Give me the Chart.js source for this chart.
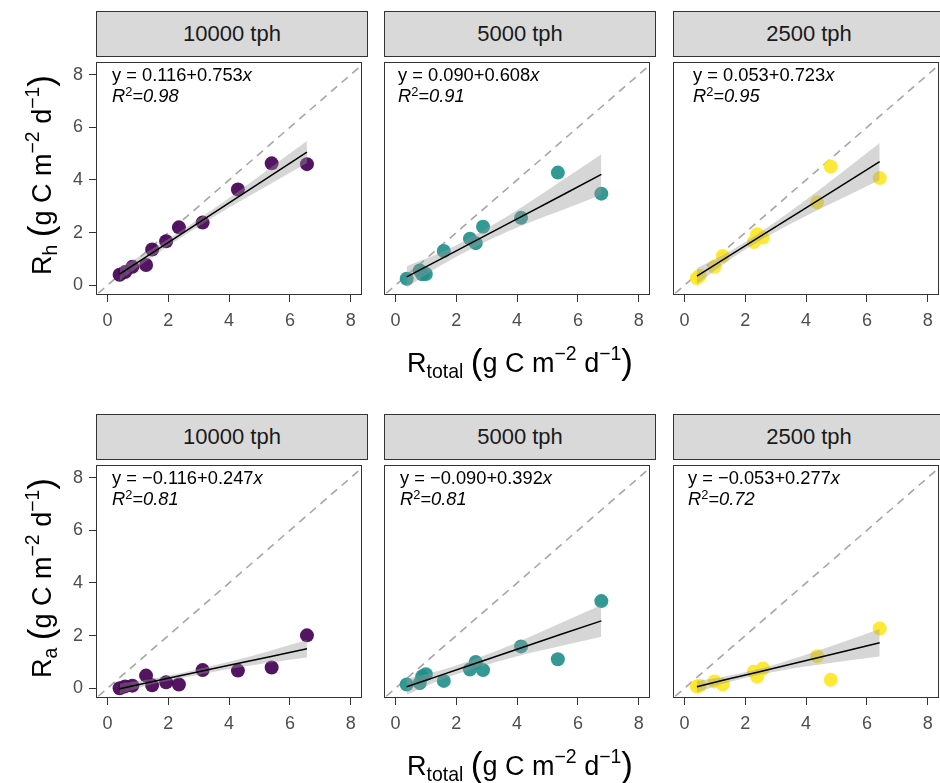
<!DOCTYPE html>
<html>
<head>
<meta charset="utf-8">
<script src="https://cdn.jsdelivr.net/npm/chart.js@4.4.0/dist/chart.umd.min.js"></script>
<style>
  body{margin:0;width:940px;height:783px;overflow:hidden;background:#fff;position:relative;font-family:"Liberation Sans",Arial,sans-serif;}
  canvas{position:absolute;}
  .strip{position:absolute;box-sizing:border-box;border:1px solid #333;background:#d9d9d9;height:46px;display:flex;align-items:center;justify-content:center;font-size:22px;color:#1a1a1a;}
  .eq{position:absolute;font-size:18.3px;line-height:21px;color:#000;white-space:nowrap;}
  .eq sup{font-size:0.7em;line-height:0;vertical-align:0.5em;}
  .ttl{position:absolute;font-size:27px;line-height:32px;color:#000;white-space:nowrap;}
  .ttl sub{font-size:0.72em;line-height:0;vertical-align:-0.3em;}
  .ttl sup{font-size:0.72em;line-height:0;vertical-align:0.62em;}
  .ttl .par{font-size:35px;line-height:0;vertical-align:-0.06em;font-weight:300;}
</style>
</head>
<body>
<script>
// ---------- data ----------
const facetLabels = ["10000 tph", "5000 tph", "2500 tph"];
const xTicks = [0, 2, 4, 6, 8];
const yTicks = [0, 2, 4, 6, 8];

const rtotal10000 = [0.40, 0.58, 0.82, 1.27, 1.47, 1.93, 2.35, 3.13, 4.29, 5.40, 6.56];
const rh10000     = [0.40, 0.50, 0.70, 0.77, 1.36, 1.67, 2.20, 2.38, 3.64, 4.63, 4.60];
const ra10000     = [0.00, 0.07, 0.10, 0.48, 0.11, 0.23, 0.14, 0.69, 0.67, 0.79, 2.01];

const rtotal5000 = [0.37, 0.80, 0.88, 1.00, 1.59, 2.45, 2.64, 2.88, 4.13, 5.34, 6.77];
const rh5000     = [0.25, 0.56, 0.42, 0.43, 1.30, 1.77, 1.60, 2.22, 2.56, 4.28, 3.48];
const ra5000     = [0.14, 0.20, 0.45, 0.53, 0.28, 0.71, 1.00, 0.69, 1.59, 1.10, 3.31];

const rtotal2500 = [0.41, 0.50, 0.99, 1.26, 2.28, 2.39, 2.58, 4.36, 4.81, 6.42];
const rh2500     = [0.27, 0.36, 0.70, 1.11, 1.64, 1.94, 1.81, 3.15, 4.51, 4.07];
const ra2500     = [0.07, 0.10, 0.26, 0.14, 0.63, 0.44, 0.75, 1.22, 0.32, 2.27];

// fitted line and its confidence band, read at a few x positions
const bandX10000 = [0.40, 1.5, 2.5, 4.0, 5.3, 6.56];
const bandX5000  = [0.37, 1.5, 2.5, 4.0, 5.4, 6.77];
const bandX2500  = [0.41, 1.3, 2.4, 3.8, 5.1, 6.42];

const rhFit10000 = [0.42, 1.25, 2.00, 3.13, 4.11, 5.06];
const rhLo10000  = [0.17, 1.10, 1.87, 2.95, 3.81, 4.64];
const rhHi10000  = [0.67, 1.40, 2.13, 3.31, 4.41, 5.48];
const rhFit5000  = [0.32, 1.00, 1.61, 2.52, 3.37, 4.21];
const rhLo5000   = [-0.09, 0.76, 1.39, 2.19, 2.82, 3.44];
const rhHi5000   = [0.72, 1.24, 1.83, 2.85, 3.92, 4.98];
const rhFit2500  = [0.35, 0.99, 1.79, 2.80, 3.74, 4.70];
const rhLo2500   = [0.05, 0.81, 1.64, 2.52, 3.26, 4.00];
const rhHi2500   = [0.65, 1.17, 1.94, 3.08, 4.22, 5.40];

const raFit10000 = [-0.02, 0.26, 0.50, 0.87, 1.19, 1.50];
const raLo10000  = [-0.22, 0.16, 0.40, 0.73, 0.97, 1.17];
const raHi10000  = [0.18, 0.36, 0.60, 1.01, 1.41, 1.83];
const raFit5000  = [0.06, 0.50, 0.89, 1.48, 2.03, 2.56];
const raLo5000   = [-0.25, 0.32, 0.72, 1.22, 1.60, 1.96];
const raHi5000   = [0.36, 0.68, 1.06, 1.74, 2.46, 3.16];
const raFit2500  = [0.06, 0.31, 0.61, 1.00, 1.36, 1.73];
const raLo2500   = [-0.16, 0.18, 0.50, 0.80, 1.01, 1.21];
const raHi2500   = [0.28, 0.44, 0.72, 1.20, 1.71, 2.25];

const rhEquations = ["y = 0.116+0.753<i>x</i>", "y = 0.090+0.608<i>x</i>", "y = 0.053+0.723<i>x</i>"];
const rhR2 = ["0.98", "0.91", "0.95"];
const raEquations = ["y = \u22120.116+0.247<i>x</i>", "y = \u22120.090+0.392<i>x</i>", "y = \u22120.053+0.277<i>x</i>"];
const raR2 = ["0.81", "0.81", "0.72"];

const pointColors = ["rgba(68,1,84,0.92)", "rgba(33,144,140,0.92)", "rgba(253,231,37,0.92)"];

// ---------- layout ----------
const colLeft = [96, 384, 673];
const rowTop = [56, 459];
const plotW = 272, plotH = 239;
const yAxisW = 45, xAxisH = 40;
const X_MIN = -0.376, X_MAX = 8.37, Y_MIN = -0.37, Y_MAX = 8.48;

Chart.defaults.font.family = "'Liberation Sans', Arial, sans-serif";

const borderPlugin = {
  id: 'panelBorder',
  afterDraw(chart) {
    const a = chart.chartArea, ctx = chart.ctx;
    ctx.save();
    ctx.strokeStyle = '#333333';
    ctx.lineWidth = 1;
    ctx.strokeRect(Math.round(a.left) + 0.5, Math.round(a.top) + 0.5,
                   Math.round(a.right - a.left) - 1, Math.round(a.bottom - a.top) - 1);
    ctx.restore();
  }
};

function toXY(xs, ys) { return xs.map((v, i) => ({x: v, y: ys[i]})); }

function addHTML(html) { document.body.insertAdjacentHTML('beforeend', html); }

function makePanel(row, col, xs, ys, bx, fit, lo, hi, eq, r2) {
  const left = colLeft[col], top = rowTop[row];
  addHTML(`<div class="strip" style="left:${left}px;top:${top - 45}px;width:${plotW}px;">${facetLabels[col]}</div>`);
  const cv = document.createElement('canvas');
  const W = yAxisW + plotW + 1, H = 1 + plotH + xAxisH;
  cv.width = W; cv.height = H;
  cv.style.left = (left - yAxisW) + 'px';
  cv.style.top = (top - 1) + 'px';
  cv.style.width = W + 'px'; cv.style.height = H + 'px';
  document.body.appendChild(cv);

  const showY = col === 0;
  new Chart(cv.getContext('2d'), {
    type: 'line',
    data: {
      datasets: [
        { data: toXY(bx, fit), borderColor: '#000', borderWidth: 1.5, pointRadius: 0, fill: false, tension: 0 },
        { data: toXY(bx, hi), borderWidth: 0, borderColor: 'rgba(0,0,0,0)', pointRadius: 0,
          fill: '+1', backgroundColor: 'rgba(153,153,153,0.4)', cubicInterpolationMode: 'monotone' },
        { data: toXY(bx, lo), borderWidth: 0, borderColor: 'rgba(0,0,0,0)', pointRadius: 0, fill: false,
          cubicInterpolationMode: 'monotone' },
        { data: toXY(xs, ys), showLine: false, pointRadius: 7, pointBorderWidth: 0,
          pointBackgroundColor: pointColors[col], backgroundColor: pointColors[col] },
        { data: [{x: -1, y: -1}, {x: 10, y: 10}], borderColor: '#a6a6a6', borderWidth: 1.6,
          borderDash: [8, 6], pointRadius: 0, fill: false }
      ]
    },
    options: {
      responsive: false, animation: false, devicePixelRatio: 1, events: [],
      layout: { padding: { top: 1, right: 1, left: 0, bottom: 0 } },
      plugins: { legend: { display: false }, tooltip: { enabled: false }, title: { display: false } },
      scales: {
        x: {
          type: 'linear', min: X_MIN, max: X_MAX,
          afterBuildTicks: s => { s.ticks = xTicks.map(v => ({value: v})); },
          afterFit: s => { s.height = xAxisH; s.paddingLeft = 0; s.paddingRight = 0; },
          border: { display: false },
          grid: { display: true, drawOnChartArea: false, drawTicks: true, tickLength: 7, color: '#333333', lineWidth: 1 },
          ticks: { color: '#4d4d4d', font: { size: 18 }, padding: 8, maxRotation: 0 }
        },
        y: {
          type: 'linear', min: Y_MIN, max: Y_MAX,
          afterBuildTicks: s => { s.ticks = yTicks.map(v => ({value: v})); },
          afterFit: s => { s.width = yAxisW; s.paddingTop = 0; s.paddingBottom = 0; },
          border: { display: false },
          grid: { display: showY, drawOnChartArea: false, drawTicks: true, tickLength: 7, color: '#333333', lineWidth: 1 },
          ticks: { display: showY, color: '#4d4d4d', font: { size: 18 }, padding: 6 }
        }
      }
    },
    plugins: [borderPlugin]
  });

  const eqLeft = [112, 398, 693][col] + (row === 1 ? [0, 2, -5][col] : 0);
  addHTML(`<div class="eq" style="left:${eqLeft}px;top:${top + 8}px;">${eq}<br><i>R</i><sup>2</sup><i>=${r2}</i></div>`);
}

makePanel(0, 0, rtotal10000, rh10000, bandX10000, rhFit10000, rhLo10000, rhHi10000, rhEquations[0], rhR2[0]);
makePanel(0, 1, rtotal5000,  rh5000,  bandX5000,  rhFit5000,  rhLo5000,  rhHi5000,  rhEquations[1], rhR2[1]);
makePanel(0, 2, rtotal2500,  rh2500,  bandX2500,  rhFit2500,  rhLo2500,  rhHi2500,  rhEquations[2], rhR2[2]);
makePanel(1, 0, rtotal10000, ra10000, bandX10000, raFit10000, raLo10000, raHi10000, raEquations[0], raR2[0]);
makePanel(1, 1, rtotal5000,  ra5000,  bandX5000,  raFit5000,  raLo5000,  raHi5000,  raEquations[1], raR2[1]);
makePanel(1, 2, rtotal2500,  ra2500,  bandX2500,  raFit2500,  raLo2500,  raHi2500,  raEquations[2], raR2[2]);

// axis titles
const xTitle = 'R<sub>total</sub> <span class="par">(</span>g C m<sup>\u22122</sup> d<sup>\u22121</sup><span class="par">)</span>';
addHTML(`<div class="ttl" style="left:520px;top:347px;transform:translateX(-50%);">${xTitle}</div>`);
addHTML(`<div class="ttl" style="left:520px;top:750px;transform:translateX(-50%);">${xTitle}</div>`);
const rhTitle = 'R<sub>h</sub> <span class="par">(</span>g C m<sup>\u22122</sup> d<sup>\u22121</sup><span class="par">)</span>';
const raTitle = 'R<sub>a</sub> <span class="par">(</span>g C m<sup>\u22122</sup> d<sup>\u22121</sup><span class="par">)</span>';
addHTML(`<div class="ttl" style="left:42px;top:175px;transform:translate(-50%,-50%) rotate(-90deg);">${rhTitle}</div>`);
addHTML(`<div class="ttl" style="left:42px;top:578px;transform:translate(-50%,-50%) rotate(-90deg);">${raTitle}</div>`);
</script>
</body>
</html>
